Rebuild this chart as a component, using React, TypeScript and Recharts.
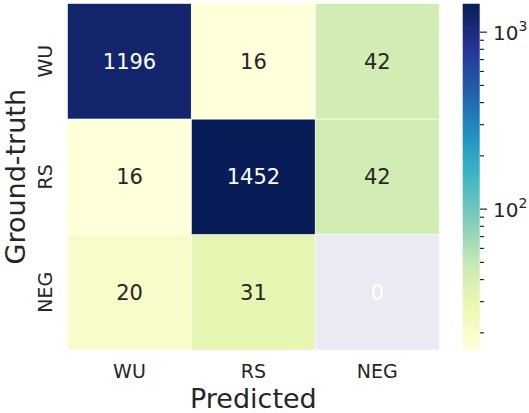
import React from "react";
import { BarChart, Bar, XAxis, YAxis, Cell, LabelList, Label } from "recharts";

// confusion matrix, rows = ground truth, columns = predicted
const predicted = ["WU", "RS", "NEG"];
const truthRows = ["WU", "RS", "NEG"];
const rowWU = [1196, 16, 42];
const rowRS = [16, 1452, 42];
const rowNEG = [20, 31, 0];

const vMin = 16;
const vMax = 1452;
const cbTicks = [20, 30, 40, 50, 60, 70, 80, 90, 100, 200, 300, 400, 500, 600, 700, 800, 900, 1000];
const cbMajor = [100, 1000];

const ylgnbu = ["#ffffd9", "#edf8b1", "#c7e9b4", "#7fcdbb", "#41b6c4", "#1d91c0", "#225ea8", "#253494", "#081d58"];
const TEXT = "#262626";
const FONT = "DejaVu Sans";

const counts: Record<string, number[]> = { WU: rowWU, RS: rowRS, NEG: rowNEG };
const data = predicted.map((p, i) => ({ pred: p, WU: rowWU[i], RS: rowRS[i], NEG: rowNEG[i] }));
const colorbar = [{ name: "cb", range: [vMin, vMax] }];

function hexToRgb(h: string) {
  return [1, 3, 5].map((k) => parseInt(h.slice(k, k + 2), 16));
}

function cmap(v: number) {
  if (v <= 0) return "#eaeaf2";
  let t = (Math.log10(v) - Math.log10(vMin)) / (Math.log10(vMax) - Math.log10(vMin));
  t = Math.max(0, Math.min(1, t));
  const pos = t * (ylgnbu.length - 1);
  const i = Math.min(Math.floor(pos), ylgnbu.length - 2);
  const f = pos - i;
  const a = hexToRgb(ylgnbu[i]);
  const b = hexToRgb(ylgnbu[i + 1]);
  const c = a.map((x, k) => Math.round(x + (b[k] - x) * f));
  return `rgb(${c[0]},${c[1]},${c[2]})`;
}

const unitKeys: Record<string, (d: any) => number> = {
  WU: () => 1,
  RS: () => 1,
  NEG: () => 1,
};

const cellLabel = (row: string) => (props: any) => {
  const vb = props.viewBox ?? props;
  const { x, y, width, height } = vb;
  const v = counts[row][props.index];
  return (
    <text
      x={x + width / 2}
      y={y + height / 2 + 7.5}
      textAnchor="middle"
      fontSize={21}
      fontFamily={FONT}
      fill={v > 500 || v === 0 ? "#ffffff" : TEXT}
    >
      {v}
    </text>
  );
};

const XTick = (props: any) => (
  <text x={props.x} y={props.y + 28} textAnchor="middle" fontSize={19} fontFamily={FONT} fill={TEXT}>
    {props.payload.value}
  </text>
);

const yName = (v: number) => truthRows[2 - Math.floor(v)];

const YTick = (props: any) => {
  const x = props.x - 15.5;
  return (
    <text
      x={x}
      y={props.y}
      transform={`rotate(-90 ${x} ${props.y})`}
      textAnchor="middle"
      fontSize={19}
      fontFamily={FONT}
      fill={TEXT}
    >
      {yName(props.payload.value)}
    </text>
  );
};

const CbTick = (props: any) => {
  const v = props.payload.value;
  const major = cbMajor.includes(v);
  const { x, y } = props;
  return (
    <g>
      <line x1={x} x2={x + (major ? 7 : 4)} y1={y} y2={y} stroke={TEXT} strokeWidth={1.2} />
      {major && (
        <text x={x + 13} y={y + 7.5} fontSize={20} fontFamily={FONT} fill={TEXT}>
          10
          <tspan dy={-9} fontSize={14}>
            {Math.round(Math.log10(v))}
          </tspan>
        </text>
      )}
    </g>
  );
};

export default function App() {
  return (
    <div style={{ position: "absolute", left: 0, top: 0, width: 529, height: 413, background: "#fff" }}>
      <div style={{ position: "absolute", left: 0, top: 0 }}>
        <BarChart width={450} height={413} data={data} margin={{ top: 3.5, right: 10.7, bottom: 0, left: 0 }} barCategoryGap={0} barGap={0}>
          <XAxis dataKey="pred" height={63} tickSize={0} tickMargin={0} axisLine={false} tickLine={false} tick={<XTick />} interval={0}>
            <Label value="Predicted" position="insideBottom" offset={5} fontSize={27} fontFamily={FONT} fill={TEXT} />
          </XAxis>
          <YAxis
            type="number"
            domain={[0, 3]}
            ticks={[0.5, 1.5, 2.5]}
            width={67.5}
            tickSize={0}
            tickMargin={0}
            axisLine={false}
            tickLine={false}
            tick={<YTick />}
          >
            <Label
              value="Ground-truth"
              angle={-90}
              position="insideLeft"
              offset={15}
              fontSize={27}
              fontFamily={FONT}
              fill={TEXT}
              style={{ textAnchor: "middle" }}
            />
          </YAxis>
          {["NEG", "RS", "WU"].map((row) => (
            <Bar key={row} dataKey={unitKeys[row]} stackId="m" isAnimationActive={false}>
              {data.map((d: any, i) => (
                <Cell key={i} fill={cmap(d[row])} stroke="rgba(255,255,255,0.6)" strokeWidth={1} />
              ))}
              <LabelList content={cellLabel(row)} />
            </Bar>
          ))}
        </BarChart>
      </div>
      <div style={{ position: "absolute", left: 440, top: 0 }}>
        <BarChart width={89} height={413} data={colorbar} margin={{ top: 3.5, right: 0, bottom: 63, left: 22.7 }} barCategoryGap={0}>
          <defs>
            <linearGradient id="ylgnbu" x1="0" y1="1" x2="0" y2="0">
              {ylgnbu.map((c, i) => (
                <stop key={i} offset={i / (ylgnbu.length - 1)} stopColor={c} />
              ))}
            </linearGradient>
          </defs>
          <XAxis dataKey="name" hide />
          <YAxis
            orientation="right"
            type="number"
            scale="log"
            domain={[vMin, vMax]}
            allowDataOverflow
            ticks={cbTicks}
            interval={0}
            width={49}
            tickSize={0}
            tickMargin={0}
            axisLine={false}
            tickLine={false}
            tick={<CbTick />}
          />
          <Bar dataKey="range" fill="url(#ylgnbu)" isAnimationActive={false} />
        </BarChart>
      </div>
    </div>
  );
}
